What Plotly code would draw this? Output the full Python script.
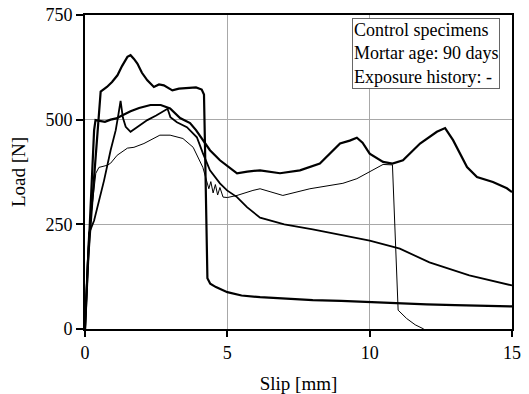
import plotly.graph_objects as go

# Specimen A (highest peak, drops at ~4.3 mm)
A_x = [0, 0.1, 0.25, 0.43, 0.5, 0.55, 0.77, 0.95, 1.14, 1.3, 1.49, 1.6, 1.72, 1.84, 2.0, 2.19,
       2.42, 2.6, 2.77, 3.07, 3.3, 3.6, 3.9, 4.1, 4.18, 4.22, 4.26, 4.3, 4.4, 4.6, 5.0, 5.5,
       6.15, 7, 8, 9, 10, 11, 12, 13, 14, 15]
A_y = [0, 160, 300, 475, 540, 567, 578, 590, 606, 628, 650, 654, 645, 634, 612, 594,
       578, 584, 582, 570, 574, 576, 577, 572, 560, 420, 200, 121, 108, 100, 88, 80,
       76, 72, 69, 67, 64, 61, 59, 57, 56, 54]

# Specimen B (plateau ~500, humps at 9.5 and 12.7 mm)
B_x = [0, 0.15, 0.32, 0.37, 0.5, 0.7, 0.9, 1.1, 1.3, 1.6, 1.9, 2.3, 2.66, 2.88, 2.99, 3.34,
       3.69, 3.9, 4.14, 4.39, 4.74, 5.09, 5.34, 5.7, 6.15, 6.85, 7.55, 8.25, 8.96, 9.3, 9.55,
       9.75, 10.0, 10.47, 10.8, 11.17, 11.77, 12.36, 12.65, 12.93, 13.42, 13.77, 14.33, 14.82, 15]
B_y = [0, 230, 475, 499, 497, 495, 500, 503, 510, 520, 528, 535, 535, 530, 527, 504,
       492, 475, 451, 427, 403, 386, 372, 376, 379, 372, 379, 395, 443, 450, 457,
       445, 419, 399, 395, 403, 443, 471, 480, 451, 387, 363, 351, 336, 327]

# Specimen C (spike at ~1.25 mm, long decline)
C_x = [0, 0.14, 0.32, 0.49, 0.67, 0.9, 1.08, 1.18, 1.25, 1.33, 1.43, 1.6, 1.9, 2.19, 2.5,
       2.8, 2.9, 3.0, 3.23, 3.58, 3.93, 4.14, 4.39, 4.74, 4.99, 5.34, 5.69, 6.15, 7, 8, 9,
       10, 11.06, 12.1, 13.5, 15]
C_y = [0, 228, 259, 303, 355, 427, 475, 515, 545, 505, 483, 471, 485, 499, 510,
       522, 526, 506, 494, 482, 458, 420, 379, 348, 331, 315, 291, 266, 250, 238, 225,
       211, 192, 159, 128, 104]

# Specimen D (thin line, drops at ~10.9 mm)
D_x = [0, 0.14, 0.38, 0.49, 0.78, 0.9, 1.13, 1.49, 1.72, 2.07, 2.63, 2.99, 3.44, 3.8, 4.14,
       4.28, 4.35, 4.42, 4.5, 4.58, 4.66, 4.74, 4.85, 5.0, 5.34, 5.9, 6.15, 6.5, 6.95, 7.9,
       9.06, 9.55, 10.1, 10.47, 10.8, 10.88, 10.95, 11.0, 11.3, 11.6, 11.9]
D_y = [0, 228, 372, 386, 391, 396, 415, 432, 434, 443, 463, 463, 455, 434, 386,
       355, 335, 352, 325, 345, 320, 338, 315, 314, 319, 331, 335, 328, 319, 335,
       348, 359, 379, 393, 392, 250, 120, 45, 25, 10, 0]

x_ticks = [0, 5, 10, 15]
y_ticks = [0, 250, 500, 750]

FONT = "Liberation Serif"

fig = go.Figure()
for xs, ys, w in [(A_x, A_y, 2.2), (B_x, B_y, 2.2), (C_x, C_y, 1.8), (D_x, D_y, 1.0)]:
    fig.add_trace(go.Scatter(x=xs, y=ys, mode="lines",
                             line=dict(color="black", width=w), showlegend=False))

fig.update_layout(
    width=529, height=394,
    margin=dict(l=85, r=17, t=15, b=65),
    paper_bgcolor="white", plot_bgcolor="white",
    font=dict(family=FONT, size=18, color="black"),
    showlegend=False,
)
fig.update_xaxes(
    range=[0, 15], tickvals=x_ticks, ticktext=[str(v) for v in x_ticks],
    showgrid=True, gridcolor="#a8a8a8", gridwidth=1,
    showline=True, linecolor="black", linewidth=2, mirror=True,
    ticks="outside", ticklen=6, tickcolor="black", tickwidth=1.5,
    zeroline=False, automargin=False,
    title=dict(text="Slip [mm]", font=dict(size=19)),
)
fig.update_yaxes(
    range=[0, 750], tickvals=y_ticks, ticktext=[str(v) for v in y_ticks],
    showgrid=True, gridcolor="#a8a8a8", gridwidth=1,
    showline=True, linecolor="black", linewidth=2, mirror=True,
    ticks="outside", ticklen=7, tickcolor="black", tickwidth=1.5,
    zeroline=False, automargin=False,
    title=dict(text="Load [N]", font=dict(size=19)),
)
fig.add_annotation(
    xref="paper", yref="paper", x=0.972, y=0.99, xanchor="right", yanchor="top",
    text="Control specimens<br>Mortar age: 90 days<br>Exposure history: -",
    showarrow=False, align="left", font=dict(size=18),
    bordercolor="#666666", borderwidth=1, borderpad=1, bgcolor="white",
)

fig.write_html("out.html")
